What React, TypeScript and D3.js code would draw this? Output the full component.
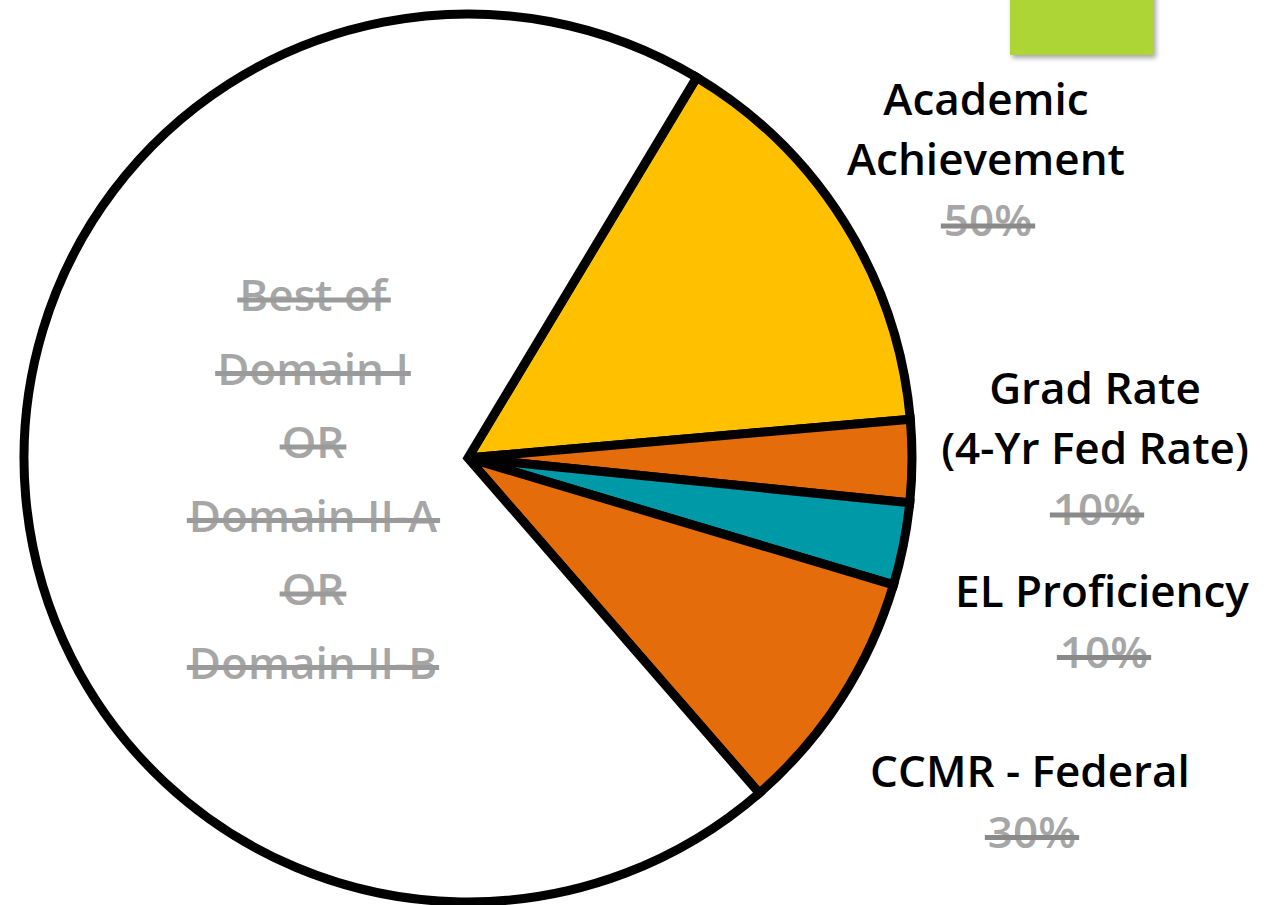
import React, { useEffect, useRef } from "react";
import * as d3 from "d3";

// ---- data ----
const segments = [
  "Academic Achievement",
  "Grad Rate",
  "EL Proficiency",
  "CCMR - Federal",
  "Best of Domain I OR Domain II-A OR Domain II-B",
];
const shares = [15, 3, 3, 9, 70];
const sliceColors = ["#FFC000", "#E46C0A", "#0099A8", "#E46C0A", "#FFFFFF"];

const labelLines = [
  ["Academic", "Achievement"],
  ["Grad Rate", "(4-Yr Fed Rate)"],
  ["EL Proficiency"],
  ["CCMR - Federal"],
];
const labelPercents = ["50%", "10%", "10%", "30%"];
const bestOfLines = ["Best of", "Domain I", "OR", "Domain II-A", "OR", "Domain II-B"];

// label anchor positions (center x, first baseline y)
const labelAnchors: [number, number][] = [
  [986, 115],
  [1095, 404],
  [1102, 607],
  [1030, 787],
];

const W = 1276;
const H = 905;
const FONT = "'Open Sans', 'Liberation Sans', sans-serif";
const FS = 44;

export default function App() {
  const ref = useRef<SVGSVGElement>(null);

  useEffect(() => {
    const svg = d3.select(ref.current);
    svg.selectAll("*").remove();

    const defs = svg.append("defs");
    const f = defs
      .append("filter")
      .attr("id", "shadow")
      .attr("x", "-20%")
      .attr("y", "-20%")
      .attr("width", "150%")
      .attr("height", "160%");
    f.append("feDropShadow")
      .attr("dx", 2)
      .attr("dy", 3)
      .attr("stdDeviation", 2.5)
      .attr("flood-color", "#000")
      .attr("flood-opacity", 0.35);

    // green rectangle at top right
    svg
      .append("rect")
      .attr("x", 1010)
      .attr("y", -10)
      .attr("width", 144)
      .attr("height", 65)
      .attr("fill", "#ADD535")
      .attr("filter", "url(#shadow)");

    // pie
    const cx = 468;
    const cy = 458;
    const r = 444;
    const start = (31 * Math.PI) / 180;
    const pie = d3
      .pie<number>()
      .sort(null)
      .value((d) => d)
      .startAngle(start)
      .endAngle(start + 2 * Math.PI);
    const arc = d3.arc<d3.PieArcDatum<number>>().innerRadius(0).outerRadius(r);

    const g = svg.append("g").attr("transform", `translate(${cx},${cy})`);
    g.selectAll("path")
      .data(pie(shares))
      .join("path")
      .attr("d", arc)
      .attr("fill", (_, i) => sliceColors[i])
      .attr("stroke", "#000")
      .attr("stroke-width", 9)
      .attr("stroke-linejoin", "miter")
      .attr("stroke-miterlimit", 10);

    const strike = (
      sel: d3.Selection<SVGTextElement, unknown, null, undefined>,
      y: number,
      color: string,
      th: number,
      ext: number
    ) => {
      const node = sel.node()!;
      const bb = node.getBBox();
      svg
        .append("rect")
        .attr("x", bb.x - ext)
        .attr("y", y - th / 2)
        .attr("width", bb.width + 2 * ext)
        .attr("height", th)
        .attr("fill", color);
    };

    // right labels
    labelLines.forEach((lines, i) => {
      const [lx, ly] = labelAnchors[i];
      lines.forEach((t, j) => {
        svg
          .append("text")
          .attr("x", lx)
          .attr("y", ly + j * 60)
          .attr("text-anchor", "middle")
          .attr("font-family", FONT)
          .attr("font-weight", 600)
          .attr("font-size", FS)
          .attr("fill", "#000")
          .text(t);
      });
      const py = ly + lines.length * 60.5;
      const pt = svg
        .append("text")
        .attr("x", lx + 2)
        .attr("y", py)
        .attr("text-anchor", "middle")
        .attr("font-family", FONT)
        .attr("font-weight", 600)
        .attr("font-size", FS)
        .attr("fill", "#A6A6A6")
        .text(labelPercents[i]);
      strike(pt as any, py - 10, "#8A8A8A", 5, 3);
    });

    // left grey struck-through text
    bestOfLines.forEach((t, j) => {
      const y = 311 + j * 73.5;
      const tt = svg
        .append("text")
        .attr("x", 313)
        .attr("y", y)
        .attr("text-anchor", "middle")
        .attr("font-family", FONT)
        .attr("font-weight", 600)
        .attr("font-size", FS)
        .attr("fill", "#A6A6A6")
        .text(t);
      strike(tt as any, y - 11, "#9A9A9A", 5, 2);
    });
  }, []);

  return (
    <svg
      ref={ref}
      width={W}
      height={H}
      style={{ position: "absolute", left: 0, top: 0, background: "#fff" }}
    />
  );
}
